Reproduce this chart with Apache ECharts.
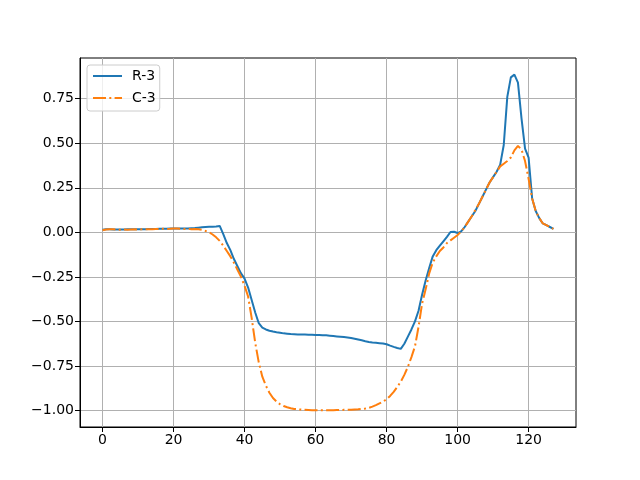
<!DOCTYPE html>
<html>
<head>
<meta charset="utf-8">
<script src="https://cdn.jsdelivr.net/npm/echarts@6/dist/echarts.min.js"></script>
<style>
  html, body { margin: 0; padding: 0; background: #fff; }
</style>
</head>
<body>
<div id="chart" style="width: 640px; height: 480px"></div>
<script>
// 数据
const r3Values = [
  0.015, 0.018, 0.017, 0.016, 0.016, 0.016, 0.016, 0.017, 0.017, 0.017,
  0.018, 0.018, 0.018, 0.019, 0.019, 0.019, 0.020, 0.020, 0.020, 0.021,
  0.021, 0.021, 0.022, 0.022, 0.022, 0.023, 0.024, 0.026, 0.028, 0.030,
  0.031, 0.032, 0.033, 0.036, -0.01, -0.06, -0.10, -0.15, -0.19, -0.23,
  -0.26, -0.31, -0.38, -0.45, -0.51, -0.535, -0.545, -0.552, -0.557, -0.561,
  -0.564, -0.567, -0.569, -0.571, -0.572, -0.573, -0.574, -0.574, -0.575, -0.575,
  -0.576, -0.576, -0.577, -0.578, -0.580, -0.582, -0.584, -0.586, -0.588, -0.590,
  -0.593, -0.597, -0.601, -0.606, -0.611, -0.615, -0.618, -0.620, -0.622, -0.624,
  -0.628, -0.636, -0.643, -0.649, -0.654, -0.625, -0.585, -0.545, -0.50, -0.44,
  -0.35, -0.27, -0.20, -0.135, -0.10, -0.075, -0.05, -0.025, 0.002, 0.003,
  -0.004, 0.005, 0.03, 0.06, 0.09, 0.12, 0.16, 0.20, 0.24, 0.28,
  0.31, 0.34, 0.38, 0.49, 0.76, 0.87, 0.885, 0.84, 0.64, 0.47,
  0.42, 0.19, 0.12, 0.08, 0.05, 0.04, 0.03, 0.02
];
const c3Values = [
  0.012, 0.016, 0.018, 0.017, 0.015, 0.015, 0.016, 0.015, 0.016, 0.017,
  0.016, 0.017, 0.018, 0.017, 0.018, 0.019, 0.018, 0.020, 0.019, 0.020,
  0.022, 0.021, 0.020, 0.019, 0.020, 0.018, 0.019, 0.017, 0.014, 0.008,
  0.000, -0.012, -0.028, -0.048, -0.075, -0.105, -0.135, -0.17, -0.21, -0.25,
  -0.30, -0.36, -0.48, -0.62, -0.73, -0.81, -0.86, -0.90, -0.93, -0.95,
  -0.965, -0.975, -0.982, -0.987, -0.991, -0.993, -0.995, -0.996, -0.997, -0.998,
  -0.998, -0.999, -0.999, -0.999, -0.998, -0.998, -0.997, -0.997, -0.996, -0.996,
  -0.995, -0.994, -0.993, -0.991, -0.989, -0.985, -0.978, -0.970, -0.960, -0.950,
  -0.937, -0.918, -0.895, -0.868, -0.838, -0.80, -0.755, -0.70, -0.64, -0.53,
  -0.40, -0.32, -0.23, -0.17, -0.135, -0.105, -0.085, -0.06, -0.045, -0.03,
  -0.015, 0.005, 0.03, 0.06, 0.09, 0.125, 0.16, 0.20, 0.24, 0.28,
  0.31, 0.34, 0.37, 0.385, 0.40, 0.42, 0.46, 0.485, 0.465, 0.40,
  0.30, 0.19, 0.12, 0.08, 0.05, 0.04, 0.03, 0.02
];
const xTicks = [0, 20, 40, 60, 80, 100, 120];
const yTicks = [-1.0, -0.75, -0.5, -0.25, 0, 0.25, 0.5, 0.75];
const seriesNames = ["R-3", "C-3"];

const toPairs = (arr) => arr.map((v, i) => [i, v]);
const fmtY = (v) => v.toFixed(2).replace("-", "\u2212");

const myChart = echarts.init(document.getElementById("chart"));
const font = "DejaVu Sans";

myChart.setOption({
  animation: false,
  textStyle: { fontFamily: font },
  grid: {
    left: 80, right: 64, top: 58, bottom: 53,
    show: true,
    borderColor: "#000",
    borderWidth: 1,
    containLabel: false,
    outerBoundsMode: "none",
  },
  legend: {
    orient: "vertical",
    left: 87, top: 65,
    itemWidth: 29, itemHeight: 14, itemGap: 8,
    padding: [4, 4, 6, 5],
    backgroundColor: "rgba(255,255,255,0.8)",
    borderColor: "#cccccc",
    borderWidth: 1,
    borderRadius: 3,
    // 只显示线，不显示圆点
    itemStyle: { opacity: 0 },
    textStyle: { fontSize: 14, color: "#000", fontFamily: font, padding: [0, 0, 0, 5] },
    data: seriesNames,
  },
  xAxis: {
    type: "value",
    min: -6.35, max: 133.35,
    axisLine: { show: true, onZero: false, lineStyle: { color: "#000", width: 1 } },
    axisTick: { show: true, length: 5, customValues: xTicks, lineStyle: { color: "#000" } },
    axisLabel: { customValues: xTicks, fontSize: 14, color: "#000", margin: 6, fontFamily: font },
    splitLine: { show: true, lineStyle: { color: "#b0b0b0", width: 1 } },
  },
  yAxis: {
    type: "value",
    min: -1.0925, max: 0.9785,
    axisLine: { show: true, onZero: false, lineStyle: { color: "#000", width: 1 } },
    axisTick: { show: true, length: 5, customValues: yTicks, lineStyle: { color: "#000" } },
    axisLabel: { customValues: yTicks, fontSize: 14, color: "#000", margin: 6, fontFamily: font, formatter: fmtY },
    splitLine: { show: true, lineStyle: { color: "#b0b0b0", width: 1 } },
  },
  series: [
    {
      name: seriesNames[0],
      type: "line",
      data: toPairs(r3Values),
      symbol: "none",
      showSymbol: false,
      lineStyle: { color: "#1f77b4", width: 2 },
      itemStyle: { color: "#1f77b4" },
      z: 2,
    },
    {
      name: seriesNames[1],
      type: "line",
      data: toPairs(c3Values),
      symbol: "none",
      showSymbol: false,
      lineStyle: { color: "#ff7f0e", width: 2, type: [13, 3.3, 2, 3.3] },
      itemStyle: { color: "#ff7f0e" },
      z: 3,
    },
  ],
});
</script>
</body>
</html>
